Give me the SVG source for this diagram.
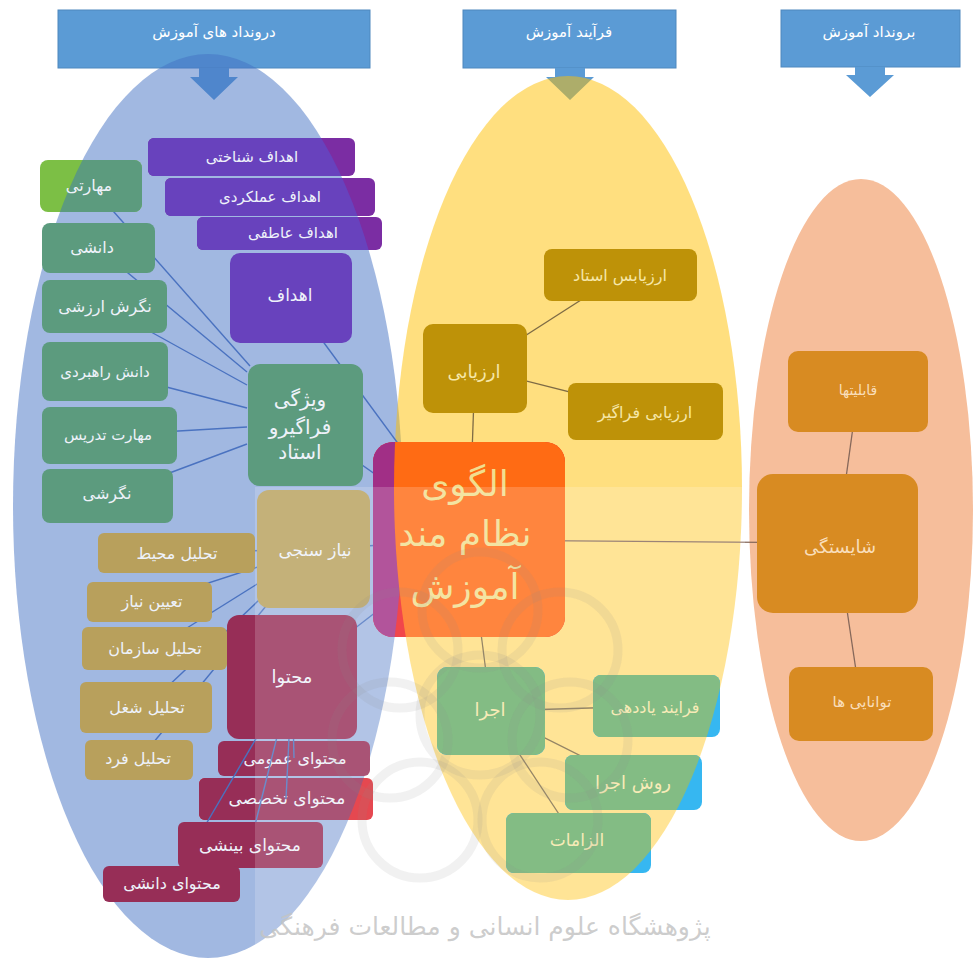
<svg xmlns="http://www.w3.org/2000/svg" width="974" height="965" viewBox="0 0 974 965">
<defs>
<style>
.hdr{fill:#5B9BD5;stroke:#4F88BE;stroke-width:1}
.arw{fill:#5B9BD5}
.t{font-family:'DejaVu Sans','Noto Sans',sans-serif;text-anchor:middle}
.tw{fill:#FFFFFF}
.tl{fill:#EEF2FA}
.ty{fill:#F6E7A8}
.tr{fill:#F9DEBB}
.tc{fill:#F1DE8E}
.grn{fill:#5C9B7E}
.grnO{fill:#7CBF45}
.pur{fill:#6842BD}
.purO{fill:#7B2DA3}
.gld{fill:#B8A05C}
.mar{fill:#972E57}
.red{fill:#E0202A}
.arz{fill:#BE9208}
.g2{fill:#68AE6A}
.cyan{fill:#0AA8EE}
.org{fill:#D88B22}
.ln{stroke:#4A72C0;stroke-width:1.4;fill:none}
.lm{stroke:#7E6B45;stroke-width:1.3;fill:none}
.lr{stroke:#86685A;stroke-width:1.3;fill:none}
.wm{fill:none;stroke:#8C8C8C;stroke-width:9;opacity:0.12}
</style>
<clipPath id="cBlue"><ellipse cx="208" cy="506" rx="195" ry="452"/></clipPath>
<clipPath id="cYel"><ellipse cx="568" cy="488" rx="174" ry="412"/></clipPath>
</defs>
<rect x="0" y="0" width="974" height="965" fill="#FFFFFF"/>

<!-- headers -->
<g id="h-inputs">
<rect class="hdr" x="58" y="10" width="312" height="58"/>
<text class="t tw" x="214" y="37" font-size="15">درونداد های آموزش</text>
</g>
<g id="h-process">
<rect class="hdr" x="463" y="10" width="213" height="58"/>
<text class="t tw" x="569" y="37" font-size="15">فرآیند آموزش</text>
</g>
<g id="h-outputs">
<rect class="hdr" x="781" y="10" width="179" height="57"/>
<text class="t tw" x="869" y="37" font-size="15">برونداد آموزش</text>
</g>
<g id="arrows">
<polygon class="arw" points="199,68 229,68 229,77 238,77 214,100 190,77 199,77"/>
<polygon class="arw" points="555,68 585,68 585,77 594,77 570,100 546,77 555,77"/>
<polygon class="arw" points="855,67 885,67 885,75 894,75 870,97 846,75 855,75"/>
</g>

<!-- background ellipses -->
<g id="ellipses">
<ellipse cx="208" cy="506" rx="195" ry="452" fill="#4472C4" fill-opacity="0.5"/>
<ellipse cx="568" cy="488" rx="174" ry="412" fill="#FFC000" fill-opacity="0.5"/>
<ellipse cx="861" cy="510" rx="112" ry="331" fill="#F6BE9B"/>
</g>

<!-- content sub-boxes that connectors pass over -->
<g id="n-mohtava-omumi">
<rect class="mar" x="218" y="741" width="152" height="35" rx="6"/>
<text class="t tl" x="295" y="764" font-size="16">محتوای عمومی</text>
</g>
<g id="n-mohtava-takhasosi">
<rect class="red" x="199" y="778" width="174" height="42" rx="6"/>
<rect class="mar" x="199" y="778" width="174" height="42" rx="6" clip-path="url(#cBlue)"/>
<text class="t tl" x="287" y="804" font-size="17">محتوای تخصصی</text>
</g>

<!-- connectors -->
<g id="connectors">
<line class="ln" x1="91" y1="186" x2="250" y2="366"/>
<line class="ln" x1="98" y1="248" x2="247" y2="372"/>
<line class="ln" x1="104" y1="306" x2="247" y2="385"/>
<line class="ln" x1="105" y1="371" x2="247" y2="408"/>
<line class="ln" x1="110" y1="435" x2="247" y2="427"/>
<line class="ln" x1="108" y1="496" x2="247" y2="444"/>
<line class="ln" x1="291" y1="298" x2="469" y2="540"/>
<line class="ln" x1="305" y1="425" x2="469" y2="540"/>
<line class="ln" x1="313" y1="549" x2="469" y2="540"/>
<line class="ln" x1="292" y1="677" x2="469" y2="540"/>
<line class="ln" x1="176" y1="553" x2="313" y2="549"/>
<line class="ln" x1="150" y1="602" x2="313" y2="549"/>
<line class="ln" x1="155" y1="648" x2="313" y2="549"/>
<line class="ln" x1="146" y1="707" x2="313" y2="549"/>
<line class="ln" x1="139" y1="760" x2="313" y2="549"/>
<line class="ln" x1="292" y1="677" x2="294" y2="758"/>
<line class="ln" x1="292" y1="677" x2="286" y2="799"/>
<line class="ln" x1="292" y1="677" x2="250" y2="845"/>
<line class="ln" x1="292" y1="677" x2="171" y2="884"/>
<line class="lm" x1="475" y1="368" x2="469" y2="540"/>
<line class="lm" x1="620" y1="275" x2="475" y2="368"/>
<line class="lm" x1="645" y1="411" x2="475" y2="368"/>
<line class="lm" x1="491" y1="711" x2="469" y2="540"/>
<line class="lm" x1="656" y1="706" x2="491" y2="711"/>
<line class="lm" x1="633" y1="782" x2="491" y2="711"/>
<line class="lm" x1="578" y1="843" x2="491" y2="711"/>
<line class="lr" x1="469" y1="540" x2="837" y2="543"/>
<line class="lr" x1="858" y1="391" x2="837" y2="543"/>
<line class="lr" x1="861" y1="704" x2="837" y2="543"/>
</g>

<!-- left column: learner/teacher characteristics -->
<g id="n-maharati">
<rect class="grnO" x="40" y="160" width="102" height="52" rx="8"/>
<rect class="grn" x="40" y="160" width="102" height="52" rx="8" clip-path="url(#cBlue)"/>
<text class="t tl" x="89" y="191" font-size="16">مهارتی</text>
</g>
<g id="n-daneshi">
<rect class="grn" x="42" y="223" width="113" height="50" rx="8"/>
<text class="t tl" x="92" y="253" font-size="16">دانشی</text>
</g>
<g id="n-negaresh-arzeshi">
<rect class="grn" x="42" y="280" width="125" height="53" rx="8"/>
<text class="t tl" x="105" y="312" font-size="16">نگرش ارزشی</text>
</g>
<g id="n-danesh-rahbordi">
<rect class="grn" x="42" y="342" width="126" height="59" rx="8"/>
<text class="t tl" x="105" y="377" font-size="15">دانش راهبردی</text>
</g>
<g id="n-maharat-tadris">
<rect class="grn" x="42" y="407" width="135" height="57" rx="8"/>
<text class="t tl" x="108" y="440" font-size="15">مهارت تدریس</text>
</g>
<g id="n-negareshi">
<rect class="grn" x="42" y="469" width="131" height="54" rx="8"/>
<text class="t tl" x="107" y="499" font-size="16">نگرشی</text>
</g>

<!-- objectives -->
<g id="n-ahdaf-shenakhti">
<rect class="purO" x="148" y="138" width="207" height="38" rx="6"/>
<rect class="pur" x="148" y="138" width="207" height="38" rx="6" clip-path="url(#cBlue)"/>
<text class="t tl" x="252" y="162" font-size="15">اهداف شناختی</text>
</g>
<g id="n-ahdaf-amalkardi">
<rect class="purO" x="165" y="178" width="210" height="38" rx="6"/>
<rect class="pur" x="165" y="178" width="210" height="38" rx="6" clip-path="url(#cBlue)"/>
<text class="t tl" x="270" y="202" font-size="15">اهداف عملکردی</text>
</g>
<g id="n-ahdaf-atefi">
<rect class="purO" x="197" y="217" width="185" height="33" rx="6"/>
<rect class="pur" x="197" y="217" width="185" height="33" rx="6" clip-path="url(#cBlue)"/>
<text class="t tl" x="293" y="238" font-size="15">اهداف عاطفی</text>
</g>
<g id="n-ahdaf">
<rect class="pur" x="230" y="253" width="122" height="90" rx="10"/>
<text class="t tl" x="290" y="301" font-size="17">اهداف</text>
</g>
<g id="n-vizhegi">
<rect class="grn" x="248" y="364" width="115" height="122" rx="12"/>
<text class="t tl" x="300" y="406" font-size="20">ویژگی</text>
<text class="t tl" x="300" y="434" font-size="20">فراگیرو</text>
<text class="t tl" x="300" y="459" font-size="20">استاد</text>
</g>

<!-- needs assessment -->
<g id="n-niazsanji">
<rect class="gld" x="257" y="490" width="113" height="118" rx="12"/>
<text class="t tl" x="315" y="556" font-size="17">نیاز سنجی</text>
</g>
<g id="n-tahlil-mohit">
<rect class="gld" x="98" y="533" width="157" height="40" rx="6"/>
<text class="t tl" x="177" y="559" font-size="16">تحلیل محیط</text>
</g>
<g id="n-tayin-niaz">
<rect class="gld" x="87" y="582" width="125" height="40" rx="6"/>
<text class="t tl" x="152" y="607" font-size="16">تعیین نیاز</text>
</g>
<g id="n-tahlil-sazman">
<rect class="gld" x="82" y="627" width="145" height="43" rx="6"/>
<text class="t tl" x="155" y="654" font-size="16">تحلیل سازمان</text>
</g>
<g id="n-tahlil-shoghl">
<rect class="gld" x="80" y="682" width="132" height="51" rx="6"/>
<text class="t tl" x="147" y="713" font-size="16">تحلیل شغل</text>
</g>
<g id="n-tahlil-fard">
<rect class="gld" x="85" y="740" width="108" height="40" rx="6"/>
<text class="t tl" x="138" y="764" font-size="16">تحلیل فرد</text>
</g>

<!-- content -->
<g id="n-mohtava">
<rect class="mar" x="227" y="615" width="130" height="124" rx="12"/>
<text class="t tl" x="292" y="683" font-size="18">محتوا</text>
</g>
<g id="n-mohtava-bineshi">
<rect class="mar" x="178" y="822" width="145" height="46" rx="6"/>
<text class="t tl" x="250" y="851" font-size="17">محتوای بینشی</text>
</g>
<g id="n-mohtava-daneshi">
<rect class="mar" x="103" y="866" width="137" height="36" rx="6"/>
<text class="t tl" x="172" y="889" font-size="16">محتوای دانشی</text>
</g>

<!-- centre -->
<g id="n-center">
<rect fill="#EE1E24" x="373" y="442" width="192" height="195" rx="20"/>
<rect fill="#A12F86" x="373" y="442" width="192" height="195" rx="20" clip-path="url(#cBlue)"/>
<rect fill="#FF6B14" x="373" y="442" width="192" height="195" rx="20" clip-path="url(#cYel)"/>
<text class="t tc" x="465" y="496" font-size="36">الگوی</text>
<text class="t tc" x="465" y="546" font-size="36">نظام مند</text>
<text class="t tc" x="465" y="599" font-size="36">آموزش</text>
</g>

<!-- evaluation -->
<g id="n-arzyabi">
<rect class="arz" x="423" y="324" width="104" height="89" rx="10"/>
<text class="t ty" x="474" y="378" font-size="18">ارزیابی</text>
</g>
<g id="n-arzyabi-ostad">
<rect class="arz" x="544" y="249" width="153" height="52" rx="8"/>
<text class="t ty" x="620" y="281" font-size="16">ارزیابس استاد</text>
</g>
<g id="n-arzyabi-faragir">
<rect class="arz" x="568" y="383" width="155" height="57" rx="8"/>
<text class="t ty" x="645" y="418" font-size="16">ارزیابی فراگیر</text>
</g>

<!-- implementation -->
<g id="n-ejra">
<rect class="cyan" x="437" y="667" width="108" height="88" rx="10"/>
<rect class="g2" x="437" y="667" width="108" height="88" rx="10" clip-path="url(#cYel)"/>
<text class="t ty" x="490" y="716" font-size="18">اجرا</text>
</g>
<g id="n-farayand">
<rect class="cyan" x="593" y="675" width="127" height="62" rx="8"/>
<rect class="g2" x="593" y="675" width="127" height="62" rx="8" clip-path="url(#cYel)"/>
<text class="t ty" x="655" y="713" font-size="16">فرایند یاددهی</text>
</g>
<g id="n-ravesh">
<rect class="cyan" x="565" y="755" width="137" height="55" rx="8"/>
<rect class="g2" x="565" y="755" width="137" height="55" rx="8" clip-path="url(#cYel)"/>
<text class="t ty" x="633" y="789" font-size="18">روش اجرا</text>
</g>
<g id="n-elzamat">
<rect class="cyan" x="506" y="813" width="145" height="60" rx="8"/>
<rect class="g2" x="506" y="813" width="145" height="60" rx="8" clip-path="url(#cYel)"/>
<text class="t ty" x="577" y="846" font-size="17">الزامات</text>
</g>

<!-- outputs -->
<g id="n-ghabeliat">
<rect class="org" x="788" y="351" width="140" height="81" rx="10"/>
<text class="t tr" x="858" y="395" font-size="14">قابلیتها</text>
</g>
<g id="n-shayestegi">
<rect class="org" x="757" y="474" width="161" height="139" rx="16"/>
<text class="t tr" x="840" y="553" font-size="18">شایستگی</text>
</g>
<g id="n-tavanaei">
<rect class="org" x="789" y="667" width="144" height="74" rx="10"/>
<text class="t tr" x="862" y="707" font-size="15">توانایی ها</text>
</g>

<!-- watermark -->
<g id="watermark">
<rect x="255" y="487" width="490" height="478" fill="#FFFFFF" opacity="0.18"/>
<circle class="wm" cx="400" cy="650" r="58"/>
<circle class="wm" cx="480" cy="610" r="58"/>
<circle class="wm" cx="560" cy="650" r="58"/>
<circle class="wm" cx="390" cy="740" r="58"/>
<circle class="wm" cx="570" cy="740" r="58"/>
<circle class="wm" cx="420" cy="820" r="58"/>
<circle class="wm" cx="540" cy="820" r="58"/>
<circle class="wm" cx="480" cy="715" r="60"/>
<text class="t" x="485" y="935" font-size="25" fill="#C4C4C4" fill-opacity="0.85">پژوهشگاه علوم انسانی و مطالعات فرهنگی</text>
</g>
</svg>
